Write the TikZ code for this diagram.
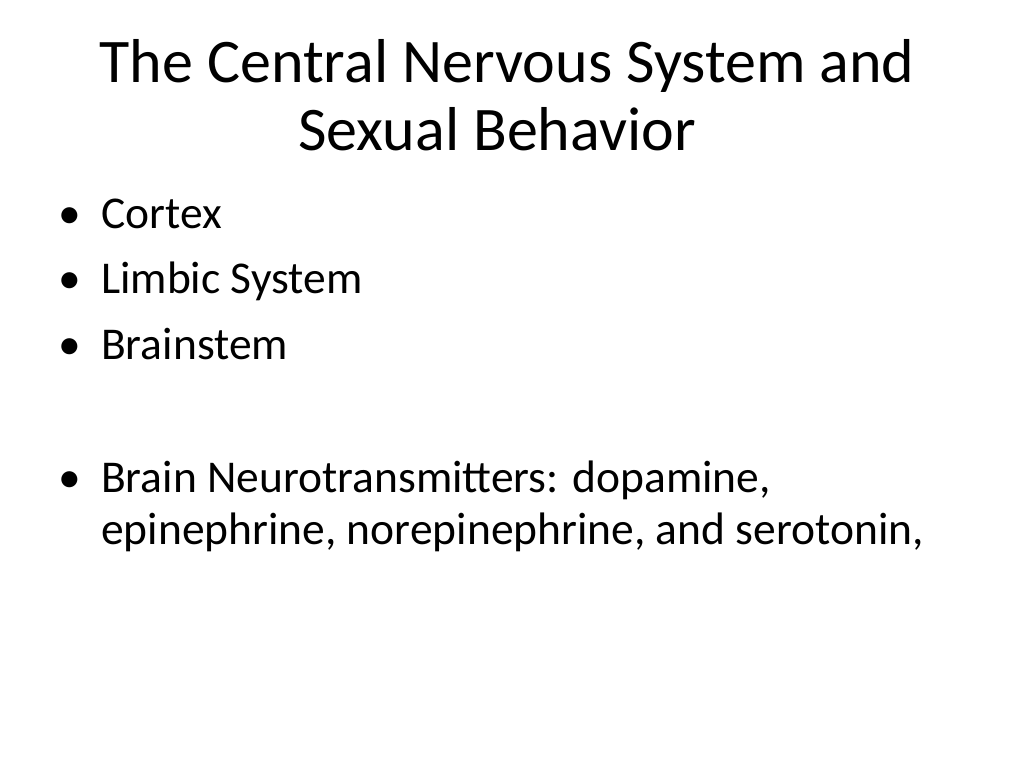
\documentclass[tikz,border=0pt]{standalone}
\usepackage{fontspec}
\setmainfont{Carlito}
\begin{document}
\begin{tikzpicture}[x=1pt,y=-1pt,
  ttl/.style={anchor=base,inner sep=0pt,font=\fontsize{62}{66}\selectfont},
  itm/.style={anchor=base west,inner sep=0pt,font=\fontsize{45.5}{52}\selectfont},
  bul/.style={anchor=base west,inner sep=0pt,font=\fontsize{45.5}{52}\selectfont}]
\useasboundingbox (0,0) rectangle (1024,768);
\node[ttl] (t1) at (507,82) {The Central Nervous System and};
\node[ttl] (t2) at (497,150) {Sexual Behavior};
\node[bul] (b1) at (58,228) {•};
\node[itm] (i1) at (101,228) {Cortex};
\node[bul] (b2) at (58,293) {•};
\node[itm] (i2) at (101,293) {Limbic System};
\node[bul] (b3) at (58,359) {•};
\node[itm] (i3) at (101,359) {Brainstem};
\node[bul] (b4) at (58,492) {•};
\node[itm] (i4) at (101,492) {Brain Neurotransmitters: dopamine,};
\node[itm] (i5) at (101,544) {epinephrine, norepinephrine, and serotonin,};
\end{tikzpicture}
\end{document}
